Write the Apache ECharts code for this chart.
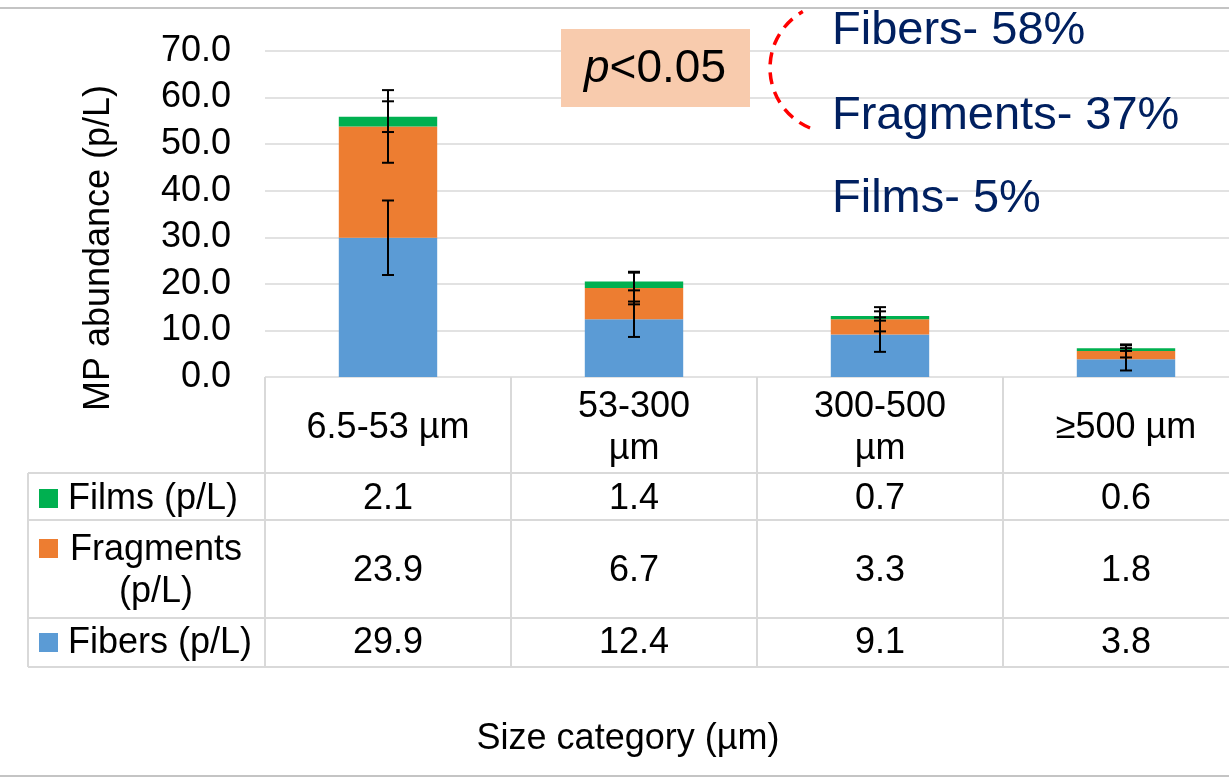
<!DOCTYPE html>
<html><head><meta charset="utf-8">
<script src="https://cdn.jsdelivr.net/npm/echarts@6/dist/echarts.min.js"></script>
<style>html,body{margin:0;padding:0;background:#fff}#c{width:1229px;height:779px}</style>
</head><body><div id="c"></div>
<script>
// ---- data ----
const categories = ['6.5-53 µm', '53-300 µm', '300-500 µm', '≥500 µm'];
const fibers = [29.9, 12.4, 9.1, 3.8];
const fragments = [23.9, 6.7, 3.3, 1.8];
const films = [2.1, 1.4, 0.7, 0.6];
const fibersErr = [8.0, 3.8, 3.7, 2.4];
const fragmentsErr = [7.8, 3.5, 2.6, 1.4];
const filmsErr = [3.3, 1.9, 1.0, 0.6];
const seriesNames = ['Films (p/L)', 'Fragments (p/L)', 'Fibers (p/L)'];
const annotations = ['Fibers- 58%', 'Fragments- 37%', 'Films- 5%'];
const yAxisName = 'MP abundance (p/L)';
const xAxisName = 'Size category (µm)';
const pText = '{i|p}<0.05';

// ---- styling ----
const FONT = '"Liberation Sans", Arial, sans-serif';
const C_FIB = '#5B9BD5', C_FRAG = '#ED7D31', C_FILM = '#00B050';
const GRID_C = '#D9D9D9';

const mctx = document.createElement('canvas').getContext('2d');
function wrap(str, maxW, size) {
  mctx.font = size + 'px ' + FONT;
  const words = str.split(' ');
  const lines = []; let cur = '';
  words.forEach(w => {
    const t = cur ? cur + ' ' + w : w;
    if (cur && mctx.measureText(t).width > maxW) { lines.push(cur); cur = w; } else cur = t;
  });
  lines.push(cur);
  return lines.join('\n');
}

const topFib = fibers.slice();
const topFrag = fibers.map((v, i) => v + fragments[i]);
const topFilm = topFrag.map((v, i) => v + films[i]);

function errSeries(name, tops, errs) {
  return {
    type: 'custom', name: name, z: 10,
    data: tops.map((t, i) => [i, t, errs[i]]),
    encode: { x: 0, y: 1 },
    renderItem: function (params, api) {
      const i = api.value(0), t = api.value(1), e = api.value(2);
      const hi = api.coord([i, t + e]), lo = api.coord([i, t - e]);
      const hw = 6, st = { stroke: '#000', lineWidth: 2 };
      return { type: 'group', children: [
        { type: 'line', shape: { x1: hi[0], y1: hi[1], x2: lo[0], y2: lo[1] }, style: st },
        { type: 'line', shape: { x1: hi[0] - hw, y1: hi[1], x2: hi[0] + hw, y2: hi[1] }, style: st },
        { type: 'line', shape: { x1: lo[0] - hw, y1: lo[1], x2: lo[0] + hw, y2: lo[1] }, style: st }
      ]};
    }
  };
}

const chart = echarts.init(document.getElementById('c'));
chart.setOption({
  animation: false,
  backgroundColor: '#fff',
  grid: { left: 265, top: 51, width: 984, height: 326, containLabel: false, outerBoundsMode: 'none' },
  xAxis: {
    type: 'category', data: categories,
    axisLine: { show: false }, axisTick: { show: false },
    axisLabel: {
      interval: 0, fontSize: 36, fontFamily: FONT, color: '#000',
      margin: 51, verticalAlign: 'middle', lineHeight: 42,
      formatter: v => wrap(v, 168, 36)
    }
  },
  yAxis: {
    type: 'value', min: 0, max: 70, interval: 10,
    axisLine: { show: false }, axisTick: { show: false },
    axisLabel: { fontSize: 36, fontFamily: FONT, color: '#000', margin: 34, padding: [5, 0, 0, 0],
      formatter: v => v.toFixed(1) },
    splitLine: { lineStyle: { color: GRID_C, width: 1.5 } }
  },
  series: [
    { type: 'bar', name: seriesNames[2], stack: 't', data: fibers, barWidth: '40%', itemStyle: { color: C_FIB } },
    { type: 'bar', name: seriesNames[1], stack: 't', data: fragments, itemStyle: { color: C_FRAG } },
    { type: 'bar', name: seriesNames[0], stack: 't', data: films, itemStyle: { color: C_FILM } },
    errSeries('e1', topFib, fibersErr),
    errSeries('e2', topFrag, fragmentsErr),
    errSeries('e3', topFilm, filmsErr)
  ]
});

// ---- data table + annotations (positions from the axis) ----
const centers = categories.map((c, i) => chart.convertToPixel({ xAxisIndex: 0 }, i));
const band = centers[1] - centers[0];
const edges = [centers[0] - band / 2].concat(centers.map(c => c + band / 2));
const y0 = chart.convertToPixel({ yAxisIndex: 0 }, 0);
const rowLines = [473, 520, 618, 667];
const tableLeft = 28;
const rows = [
  { name: seriesNames[0], vals: films, color: C_FILM, y: 499, key: 489 },
  { name: seriesNames[1], vals: fragments, color: C_FRAG, y: 571, key: 539 },
  { name: seriesNames[2], vals: fibers, color: C_FIB, y: 643, key: 633 }
];
const lineSt = { stroke: GRID_C, lineWidth: 2 };
const g = [];
rowLines.forEach(y => g.push({ type: 'line', shape: { x1: tableLeft, y1: y, x2: edges[edges.length - 1], y2: y }, style: lineSt }));
g.push({ type: 'line', shape: { x1: tableLeft, y1: rowLines[0], x2: tableLeft, y2: rowLines[3] }, style: lineSt });
edges.forEach(x => g.push({ type: 'line', shape: { x1: x, y1: y0, x2: x, y2: rowLines[3] }, style: lineSt }));
rows.forEach(r => {
  g.push({ type: 'rect', shape: { x: 39, y: r.key, width: 19, height: 19 }, style: { fill: r.color } });
  const txt = wrap(r.name, 200, 36);
  const multi = txt.indexOf('\n') >= 0;
  g.push({ type: 'text', style: { text: txt, x: multi ? 156 : 68, y: r.y, align: multi ? 'center' : 'left',
    verticalAlign: 'middle', lineHeight: 42, fontSize: 36, fontFamily: FONT, fill: '#000' } });
  r.vals.forEach((v, i) => g.push({ type: 'text', style: { text: v.toFixed(1), x: centers[i], y: r.y,
    align: 'center', verticalAlign: 'middle', fontSize: 36, fontFamily: FONT, fill: '#000' } }));
});
// axis titles
g.push({ type: 'text', x: 99, y: 248, rotation: Math.PI / 2, style: { text: yAxisName, x: 0, y: 0,
  align: 'center', verticalAlign: 'middle', fontSize: 36, fontFamily: FONT, fill: '#000' } });
g.push({ type: 'text', style: { text: xAxisName, x: 628, y: 739, align: 'center', verticalAlign: 'middle',
  fontSize: 36, fontFamily: FONT, fill: '#000' } });
// borders
g.push({ type: 'line', shape: { x1: 0, y1: 8, x2: 1229, y2: 8 }, style: { stroke: '#C4C4C4', lineWidth: 2 } });
g.push({ type: 'line', shape: { x1: 0, y1: 776, x2: 1229, y2: 776 }, style: { stroke: '#C4C4C4', lineWidth: 2 } });
// p-value box
g.push({ type: 'rect', shape: { x: 561, y: 29, width: 189, height: 78 }, style: { fill: '#F8CBAD' }, z: 20 });
g.push({ type: 'text', z: 21, style: { text: pText, x: 655, y: 69, align: 'center', verticalAlign: 'middle',
  fontSize: 46, fontFamily: FONT, fill: '#000', rich: { i: { fontStyle: 'italic', fontSize: 46, fontFamily: FONT, fill: '#000' } } } });
// dashed arc
g.push({ type: 'arc', z: 20, shape: { cx: 835, cy: 68, r: 65, startAngle: 112.6 * Math.PI / 180, endAngle: 240.3 * Math.PI / 180, clockwise: true },
  style: { stroke: '#FF0000', lineWidth: 3.5, fill: null, lineDash: [12, 8] } });
[31, 116, 199].forEach((y, k) => g.push({ type: 'text', z: 21, style: { text: annotations[k], x: 832, y: y,
  align: 'left', verticalAlign: 'middle', fontSize: 47, fontFamily: FONT, fill: '#002060' } }));
chart.setOption({ graphic: g });
</script>
</body></html>
